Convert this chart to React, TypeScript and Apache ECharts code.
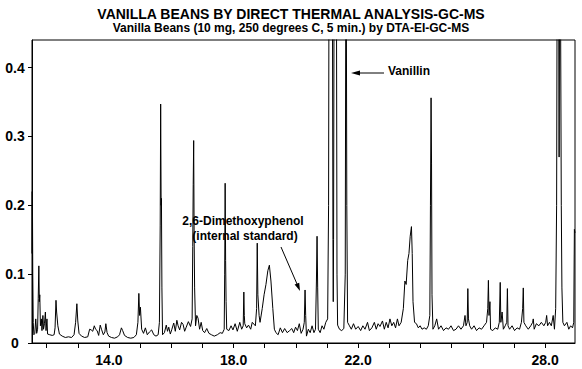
import React, { useEffect, useRef } from 'react';
import * as echarts from 'echarts';

const titleText = 'VANILLA BEANS BY DIRECT THERMAL ANALYSIS-GC-MS';
const subtitleText = 'Vanilla Beans (10 mg, 250 degrees C, 5 min.) by DTA-EI-GC-MS';

const xTickValues = [12, 13, 14, 15, 16, 17, 18, 19, 20, 21, 22, 23, 24, 25, 26, 27, 28];
const xLabelValues = [14, 18, 22, 28];
const yLabelValues = [0, 0.1, 0.2, 0.3, 0.4];

// retention time (min), abundance
const earlyRegion: [number, number][] = [
  [11.53, 0.22], [11.535, 0.13], [11.545, 0.2], [11.555, 0.1], [11.57, 0.03], [11.59, 0.012],
  [11.62, 0.014], [11.65, 0.035], [11.68, 0.014], [11.71, 0.02], [11.73, 0.065], [11.75, 0.112],
  [11.765, 0.06], [11.78, 0.07], [11.8, 0.025], [11.83, 0.035], [11.85, 0.018], [11.88, 0.04],
  [11.9, 0.02], [11.93, 0.028], [11.96, 0.045], [11.98, 0.018], [12.01, 0.035], [12.03, 0.013],
  [12.1, 0.012], [12.18, 0.011], [12.24, 0.012], [12.27, 0.022], [12.3, 0.062], [12.32, 0.045],
  [12.36, 0.025], [12.41, 0.013], [12.5, 0.01], [12.6, 0.008], [12.7, 0.009], [12.8, 0.008],
  [12.88, 0.012], [12.93, 0.03], [12.97, 0.057], [13.0, 0.032], [13.04, 0.014], [13.12, 0.01],
  [13.22, 0.008], [13.32, 0.009], [13.38, 0.02], [13.43, 0.019], [13.48, 0.017], [13.53, 0.025],
  [13.57, 0.02], [13.62, 0.018], [13.67, 0.011], [13.72, 0.026], [13.76, 0.02], [13.82, 0.012],
  [13.87, 0.016], [13.9, 0.028], [13.94, 0.015], [13.99, 0.01],
];

const secondRegion: [number, number][] = [
  [14.08, 0.008], [14.18, 0.007], [14.28, 0.009], [14.34, 0.012], [14.4, 0.022], [14.44, 0.018],
  [14.5, 0.011], [14.6, 0.008], [14.7, 0.007], [14.8, 0.008], [14.88, 0.012], [14.93, 0.03],
  [14.96, 0.072], [14.985, 0.04], [15.01, 0.052], [15.05, 0.02], [15.11, 0.014], [15.17, 0.022],
  [15.23, 0.012], [15.3, 0.016], [15.37, 0.019], [15.44, 0.012], [15.51, 0.01], [15.58, 0.012],
  [15.62, 0.03], [15.645, 0.17], [15.66, 0.347], [15.675, 0.2], [15.685, 0.21], [15.7, 0.08],
  [15.72, 0.012], [15.78, 0.015], [15.84, 0.026], [15.88, 0.017], [15.92, 0.023], [15.97, 0.013],
  [16.02, 0.02], [16.08, 0.029], [16.13, 0.017], [16.18, 0.033], [16.22, 0.025], [16.27, 0.019],
  [16.33, 0.03], [16.38, 0.027], [16.43, 0.017], [16.48, 0.023], [16.55, 0.031], [16.62, 0.024],
  [16.67, 0.035], [16.69, 0.14], [16.705, 0.23], [16.72, 0.294], [16.735, 0.15], [16.75, 0.08],
  [16.78, 0.025], [16.82, 0.04], [16.86, 0.036], [16.91, 0.02], [16.96, 0.03], [17.01, 0.018],
  [17.07, 0.015], [17.14, 0.021], [17.21, 0.014], [17.29, 0.012], [17.38, 0.01], [17.48, 0.012],
  [17.57, 0.015], [17.64, 0.014], [17.7, 0.02], [17.715, 0.1], [17.73, 0.232], [17.745, 0.12],
  [17.76, 0.06], [17.78, 0.02],
];

const standardRegion: [number, number][] = [
  [17.85, 0.018], [17.92, 0.025], [17.98, 0.019], [18.05, 0.028], [18.12, 0.017], [18.2, 0.03],
  [18.26, 0.02], [18.31, 0.025], [18.33, 0.074], [18.345, 0.04], [18.36, 0.028], [18.42, 0.022],
  [18.48, 0.026], [18.55, 0.02], [18.6, 0.03], [18.7, 0.025], [18.74, 0.05], [18.76, 0.145],
  [18.78, 0.07], [18.82, 0.04], [18.85, 0.03], [18.92, 0.05], [18.98, 0.07], [19.04, 0.085],
  [19.1, 0.105], [19.15, 0.113], [19.2, 0.09], [19.26, 0.05], [19.31, 0.02], [19.36, 0.015],
  [19.43, 0.012], [19.5, 0.022], [19.57, 0.015], [19.64, 0.021], [19.72, 0.015], [19.8, 0.018],
  [19.87, 0.021], [19.93, 0.015], [19.99, 0.023], [20.05, 0.018], [20.11, 0.028], [20.17, 0.014],
  [20.23, 0.02], [20.27, 0.03], [20.295, 0.077], [20.315, 0.04], [20.34, 0.01], [20.4, 0.02],
  [20.46, 0.015], [20.52, 0.025], [20.58, 0.015], [20.63, 0.02], [20.66, 0.09], [20.68, 0.155],
  [20.7, 0.08], [20.72, 0.02], [20.78, 0.015], [20.84, 0.025], [20.9, 0.02], [20.96, 0.03],
];

const vanillinRegion: [number, number][] = [
  [21.02, 0.035], [21.05, 0.2], [21.065, 0.6], [21.12, 0.7], [21.17, 0.6], [21.19, 0.15],
  [21.2, 0.06], [21.21, 0.15], [21.23, 0.6], [21.27, 0.7], [21.3, 0.6], [21.32, 0.1],
  [21.34, 0.026], [21.4, 0.02],
  [21.47, 0.018], [21.54, 0.021], [21.585, 0.1], [21.61, 0.7], [21.635, 0.2], [21.66, 0.03],
  [21.72, 0.025], [21.78, 0.02], [21.85, 0.028], [21.92, 0.02],
];

const lateRegion: [number, number][] = [
  [22.0, 0.024], [22.08, 0.018], [22.15, 0.025], [22.22, 0.02], [22.3, 0.03], [22.36, 0.018],
  [22.44, 0.022], [22.52, 0.03], [22.58, 0.02], [22.64, 0.028], [22.7, 0.024], [22.78, 0.032],
  [22.84, 0.02], [22.9, 0.03], [22.96, 0.022], [23.02, 0.035], [23.08, 0.025], [23.14, 0.03],
  [23.2, 0.022], [23.26, 0.035], [23.31, 0.025], [23.38, 0.03], [23.45, 0.05], [23.5, 0.09],
  [23.54, 0.085], [23.59, 0.12], [23.63, 0.13], [23.67, 0.155], [23.71, 0.169], [23.735, 0.13],
  [23.76, 0.06], [23.81, 0.03], [23.87, 0.028], [23.93, 0.022], [23.99, 0.025], [24.05, 0.02],
  [24.12, 0.022], [24.19, 0.02], [24.25, 0.025], [24.3, 0.04], [24.32, 0.2], [24.34, 0.356],
  [24.355, 0.26], [24.37, 0.07], [24.4, 0.02], [24.46, 0.025], [24.52, 0.035], [24.58, 0.02],
  [24.66, 0.025], [24.74, 0.018], [24.82, 0.022], [24.9, 0.02], [24.98, 0.025], [25.06, 0.018],
  [25.14, 0.02], [25.22, 0.025],
];

const finalRegion: [number, number][] = [
  [25.3, 0.02], [25.38, 0.025], [25.43, 0.04], [25.46, 0.025], [25.5, 0.03], [25.52, 0.079],
  [25.54, 0.035], [25.58, 0.025], [25.64, 0.02], [25.72, 0.025], [25.8, 0.018], [25.88, 0.022],
  [25.96, 0.02], [26.04, 0.025], [26.12, 0.03], [26.16, 0.05], [26.18, 0.091], [26.2, 0.04],
  [26.23, 0.06], [26.25, 0.02], [26.32, 0.018], [26.4, 0.022], [26.48, 0.02], [26.53, 0.03],
  [26.56, 0.088], [26.58, 0.03], [26.62, 0.045], [26.66, 0.02], [26.72, 0.025], [26.77, 0.03],
  [26.79, 0.079], [26.81, 0.025], [26.86, 0.02], [26.94, 0.025], [27.02, 0.018], [27.1, 0.022],
  [27.18, 0.02], [27.24, 0.03], [27.28, 0.05], [27.3, 0.08], [27.32, 0.03], [27.38, 0.025],
  [27.46, 0.02], [27.54, 0.025], [27.6, 0.03], [27.62, 0.035], [27.65, 0.02], [27.72, 0.028],
  [27.8, 0.025], [27.88, 0.03], [27.96, 0.025], [28.02, 0.03], [28.05, 0.04], [28.08, 0.025],
  [28.14, 0.03], [28.2, 0.025], [28.26, 0.04], [28.3, 0.02], [28.34, 0.05], [28.37, 0.2],
  [28.39, 0.6], [28.43, 0.6], [28.45, 0.27], [28.47, 0.6], [28.5, 0.45], [28.52, 0.2],
  [28.54, 0.08], [28.57, 0.03], [28.62, 0.025], [28.7, 0.03], [28.76, 0.02], [28.82, 0.025],
  [28.88, 0.022], [28.92, 0.03], [28.94, 0.165], [28.96, 0.16],
];

const FONT = '"Liberation Sans", Arial, Helvetica, sans-serif';

export default function App() {
  const ref = useRef<HTMLDivElement>(null);
  useEffect(() => {
    const chart = echarts.init(ref.current!, null, { renderer: 'svg' });
    const data = [
      ...earlyRegion, ...secondRegion, ...standardRegion,
      ...vanillinRegion, ...lateRegion, ...finalRegion,
    ];
    chart.setOption({
      animation: false,
      backgroundColor: '#fff',
      title: [
        {
          text: titleText, left: 'center', top: 2,
          textStyle: { fontFamily: FONT, fontSize: 14, fontWeight: 'bold', color: '#000' },
        },
        {
          text: subtitleText, left: 'center', top: 17,
          textStyle: { fontFamily: FONT, fontSize: 12, fontWeight: 'bold', color: '#000' },
        },
      ],
      grid: {
        left: 32, right: 7, top: 40, bottom: 26,
        show: true, borderColor: '#000', borderWidth: 1, backgroundColor: 'transparent',
        containLabel: false, outerBoundsMode: 'none',
      },
      xAxis: {
        type: 'value', min: 11.53, max: 28.96,
        axisLine: { show: true, onZero: false, lineStyle: { color: '#000', width: 1 } },
        axisTick: { show: true, length: 5, lineStyle: { color: '#000' }, customValues: xTickValues },
        axisLabel: {
          customValues: xLabelValues, color: '#000', fontFamily: FONT, fontSize: 14, fontWeight: 'bold',
          margin: 10, formatter: (v: number) => v.toFixed(1),
        },
        splitLine: { show: false },
      },
      yAxis: {
        type: 'value', min: 0, max: 0.44,
        axisLine: { show: true, lineStyle: { color: '#000', width: 1 } },
        axisTick: { show: true, length: 4, lineStyle: { color: '#000' }, customValues: yLabelValues },
        axisLabel: {
          customValues: yLabelValues, color: '#000', fontFamily: FONT, fontSize: 14, fontWeight: 'bold',
          align: 'center', margin: 17, formatter: (v: number) => (v === 0 ? '0' : v.toFixed(1)),
        },
        splitLine: { show: false },
      },
      series: [
        {
          type: 'line', data, showSymbol: false, symbol: 'none', clip: true,
          lineStyle: { color: '#000', width: 1 },
        },
      ],
      graphic: [
        {
          type: 'text', left: 388, top: 65,
          style: { text: 'Vanillin', fontFamily: FONT, fontSize: 12, fontWeight: 'bold', fill: '#000' },
        },
        { type: 'line', shape: { x1: 357, y1: 73, x2: 384, y2: 73 }, style: { stroke: '#000', lineWidth: 1 } },
        { type: 'polygon', shape: { points: [[351, 73], [360, 70.5], [360, 75.5]] }, style: { fill: '#000' } },
        {
          type: 'text', x: 243, y: 221,
          style: {
            text: '2,6-Dimethoxyphenol', fontFamily: FONT, fontSize: 12, fontWeight: 'bold', fill: '#000',
            align: 'center', verticalAlign: 'middle',
          },
        },
        {
          type: 'text', x: 245, y: 236,
          style: {
            text: '(internal standard)', fontFamily: FONT, fontSize: 12, fontWeight: 'bold', fill: '#000',
            align: 'center', verticalAlign: 'middle',
          },
        },
        { type: 'line', shape: { x1: 281, y1: 247, x2: 297, y2: 284 }, style: { stroke: '#000', lineWidth: 1 } },
        {
          type: 'polygon', shape: { points: [[300, 291], [299.2, 282.7], [294.6, 284.6]] },
          style: { fill: '#000' },
        },
      ],
    });
    return () => chart.dispose();
  }, []);
  return <div ref={ref} style={{ position: 'fixed', left: 0, top: 0, width: 582, height: 369 }} />;
}
